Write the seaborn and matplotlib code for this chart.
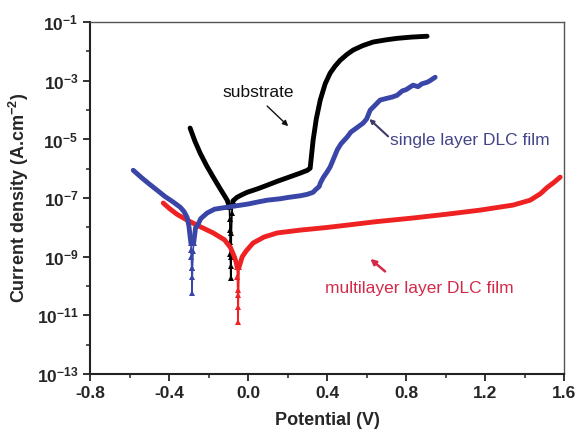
import numpy as np
import pandas as pd
import seaborn as sns
import matplotlib.pyplot as plt
from matplotlib.ticker import NullFormatter

# substrate (black)
sub_cat_v = [-0.294, -0.27, -0.243, -0.21, -0.177, -0.14, -0.106, -0.095]
sub_cat_i = [2.45e-5, 8.9e-6, 3.4e-6, 1.26e-6, 5.2e-7, 2.0e-7, 8.5e-8, 5.0e-8]
sub_tip_v = [-0.095, -0.093, -0.092, -0.091, -0.090, -0.089, -0.088, -0.087, -0.085, -0.082, -0.078]
sub_tip_i = [5.0e-8, 2.0e-8, 7.9e-9, 3.2e-9, 1.26e-9, 5.0e-10, 1.9e-10, 1.0e-9, 6.3e-9, 3.2e-8, 7.9e-8]
sub_an_v = [-0.078, -0.065, -0.056, -0.03, -0.005, 0.05, 0.096, 0.15, 0.2, 0.263, 0.30, 0.314,
            0.329, 0.345, 0.365, 0.39, 0.415, 0.44, 0.466, 0.5, 0.532, 0.58, 0.633, 0.7, 0.754, 0.83, 0.906]
sub_an_i = [7.9e-8, 9.5e-8, 1.07e-7, 1.32e-7, 1.58e-7, 2.1e-7, 2.75e-7, 3.8e-7, 5.0e-7, 7.1e-7, 8.9e-7, 1.05e-6,
            9.5e-6, 5.0e-5, 2.2e-4, 7.9e-4, 1.82e-3, 3.16e-3, 5.0e-3, 7.9e-3, 1.12e-2, 1.58e-2, 2.1e-2, 2.5e-2,
            2.8e-2, 3.1e-2, 3.3e-2]

# single layer DLC film (blue)
sl_cat_v = [-0.582, -0.54, -0.50, -0.461, -0.42, -0.38, -0.344, -0.325, -0.309, -0.30, -0.290]
sl_cat_i = [8.9e-7, 5.0e-7, 3.0e-7, 1.86e-7, 1.12e-7, 7.4e-8, 4.9e-8, 3.5e-8, 2.2e-8, 1.12e-8, 2.95e-9]
sl_tip_v = [-0.290, -0.288, -0.287, -0.286, -0.285, -0.284, -0.282, -0.279, -0.276]
sl_tip_i = [2.95e-9, 1.7e-9, 9.8e-10, 4.1e-10, 2.0e-10, 5.8e-11, 4.0e-10, 1.58e-9, 3.0e-9]
sl_an_v = [-0.276, -0.266, -0.258, -0.24, -0.208, -0.17, -0.106, -0.05, 0.0, 0.05, 0.096, 0.162, 0.2, 0.263,
           0.30, 0.329, 0.34, 0.36, 0.365, 0.38, 0.40, 0.415, 0.43, 0.451, 0.47, 0.501, 0.52, 0.55, 0.582,
           0.60, 0.618, 0.64, 0.668, 0.70, 0.73, 0.754, 0.78, 0.80, 0.835, 0.86, 0.88, 0.906, 0.92, 0.947]
sl_an_i = [3.0e-9, 1.0e-8, 1.12e-8, 2.0e-8, 3.1e-8, 4.2e-8, 4.9e-8, 5.6e-8, 6.3e-8, 7.4e-8, 8.5e-8, 9.5e-8,
           1.05e-7, 1.2e-7, 1.35e-7, 1.58e-7, 1.9e-7, 2.5e-7, 3.2e-7, 5.0e-7, 7.9e-7, 1.15e-6, 2.0e-6, 4.4e-6,
           7.1e-6, 1.2e-5, 1.78e-5, 2.5e-5, 3.6e-5, 5.0e-5, 1.0e-4, 1.41e-4, 2.2e-4, 2.5e-4, 2.8e-4, 3.2e-4,
           4.5e-4, 5.0e-4, 7.1e-4, 6.3e-4, 7.9e-4, 8.9e-4, 1.0e-3, 1.32e-3]

# multilayer layer DLC film (red)
ml_cat_v = [-0.430, -0.40, -0.36, -0.309, -0.25, -0.177, -0.12, -0.09, -0.07, -0.06, -0.056]
ml_cat_i = [6.8e-8, 4.5e-8, 2.8e-8, 1.78e-8, 1.12e-8, 6.5e-9, 3.8e-9, 2.1e-9, 1.0e-9, 6.3e-10, 4.5e-10]
ml_tip_v = [-0.056, -0.054, -0.053, -0.052, -0.051, -0.049, -0.046]
ml_tip_i = [4.5e-10, 2.0e-10, 7.2e-11, 1.9e-11, 5.9e-12, 5.0e-11, 4.5e-10]
ml_an_v = [-0.046, -0.03, -0.01, 0.025, 0.08, 0.147, 0.263, 0.4, 0.501, 0.65, 0.835, 1.0, 1.175, 1.342,
           1.428, 1.48, 1.514, 1.55, 1.58]
ml_an_i = [4.5e-10, 1.0e-9, 1.58e-9, 2.95e-9, 4.7e-9, 6.5e-9, 8.1e-9, 1.0e-8, 1.2e-8, 1.58e-8, 2.1e-8,
           2.8e-8, 3.9e-8, 5.8e-8, 8.5e-8, 1.41e-7, 2.3e-7, 3.5e-7, 5.2e-7]

x_ticks = [-0.8, -0.4, 0.0, 0.4, 0.8, 1.2, 1.6]
y_exps = [-13, -11, -9, -7, -5, -3, -1]

sns.set_style('ticks')
plt.rcParams['font.family'] = ['Liberation Sans', 'DejaVu Sans']
plt.rcParams['mathtext.fontset'] = 'custom'
plt.rcParams['mathtext.rm'] = 'Liberation Sans'
plt.rcParams['mathtext.bf'] = 'Liberation Sans:bold'

BLACK, BLUE, RED = '#000000', '#3a45a8', '#ee2222'

fig = plt.figure(figsize=(5.78, 4.34), dpi=100)
ax = fig.add_axes([0.156, 0.138, 0.82, 0.811])

curves = [
    (sub_cat_v, sub_cat_i, sub_tip_v, sub_tip_i, sub_an_v, sub_an_i, BLACK),
    (ml_cat_v, ml_cat_i, ml_tip_v, ml_tip_i, ml_an_v, ml_an_i, RED),
    (sl_cat_v, sl_cat_i, sl_tip_v, sl_tip_i, sl_an_v, sl_an_i, BLUE),
]
for cv, ci, tv, ti, av, ai, col in curves:
    sns.lineplot(x=cv, y=ci, ax=ax, color=col, lw=3.5, sort=False, estimator=None)
    sns.lineplot(x=av, y=ai, ax=ax, color=col, lw=3.5, sort=False, estimator=None)
    sns.lineplot(x=tv, y=ti, ax=ax, color=col, lw=1.2, sort=False, estimator=None,
                 marker='^', markersize=4, markeredgewidth=0)

ax.set_yscale('log')
ax.set_xlim(-0.8, 1.6)
ax.set_ylim(1e-13, 1e-1)

ax.set_xticks(x_ticks)
ax.set_xticklabels([f'{t:.1f}' for t in x_ticks], fontsize=12.5, fontweight='bold')
ax.set_xticks(np.arange(-0.6, 1.6, 0.4), minor=True)
ax.set_yticks([10.0 ** e for e in y_exps])
ax.set_yticklabels([r'$\mathbf{10^{%d}}$' % e for e in y_exps], fontsize=12.5)
ax.set_yticks([10.0 ** e for e in range(-12, -1, 2)], minor=True)
ax.yaxis.set_minor_formatter(NullFormatter())
ax.tick_params(which='major', direction='out', length=5, width=1.3, color='#222222')
ax.tick_params(which='minor', direction='out', length=3, width=1.1, color='#222222')
for side in ['left', 'bottom']:
    ax.spines[side].set_linewidth(1.5)
    ax.spines[side].set_color('#222222')
for side in ['top', 'right']:
    ax.spines[side].set_linewidth(1.0)
    ax.spines[side].set_color('#555555')

ax.set_xlabel('Potential (V)', fontsize=13, fontweight='bold', labelpad=8)
ax.set_ylabel(r'Current density (A.cm$^{\mathbf{-2}}$)', fontsize=13, fontweight='bold', labelpad=4)

# annotations
ax.text(0.051, 4.1e-4, 'substrate', fontsize=12.5, ha='center', va='center', color='#111111')
ax.annotate('', xy=(0.213, 2.45e-5), xytext=(0.086, 1.6e-4),
            arrowprops=dict(arrowstyle='-|>', color='#111111', lw=1.0, mutation_scale=8))
ax.text(0.719, 9.5e-6, 'single layer DLC film', fontsize=12.5, ha='left', va='center', color='#44448a')
ax.annotate('', xy=(0.603, 5.8e-5), xytext=(0.719, 1.1e-5),
            arrowprops=dict(arrowstyle='-|>', color='#3b3b6b', lw=1.5, mutation_scale=6))
ax.text(0.39, 8.5e-11, 'multilayer layer DLC film', fontsize=12.5, ha='left', va='center', color='#d42a4a')
ax.annotate('', xy=(0.608, 9.8e-10), xytext=(0.704, 2.75e-10),
            arrowprops=dict(arrowstyle='-|>', color='#d42a4a', lw=1.8, mutation_scale=8))

plt.savefig('out.png', dpi=100)
